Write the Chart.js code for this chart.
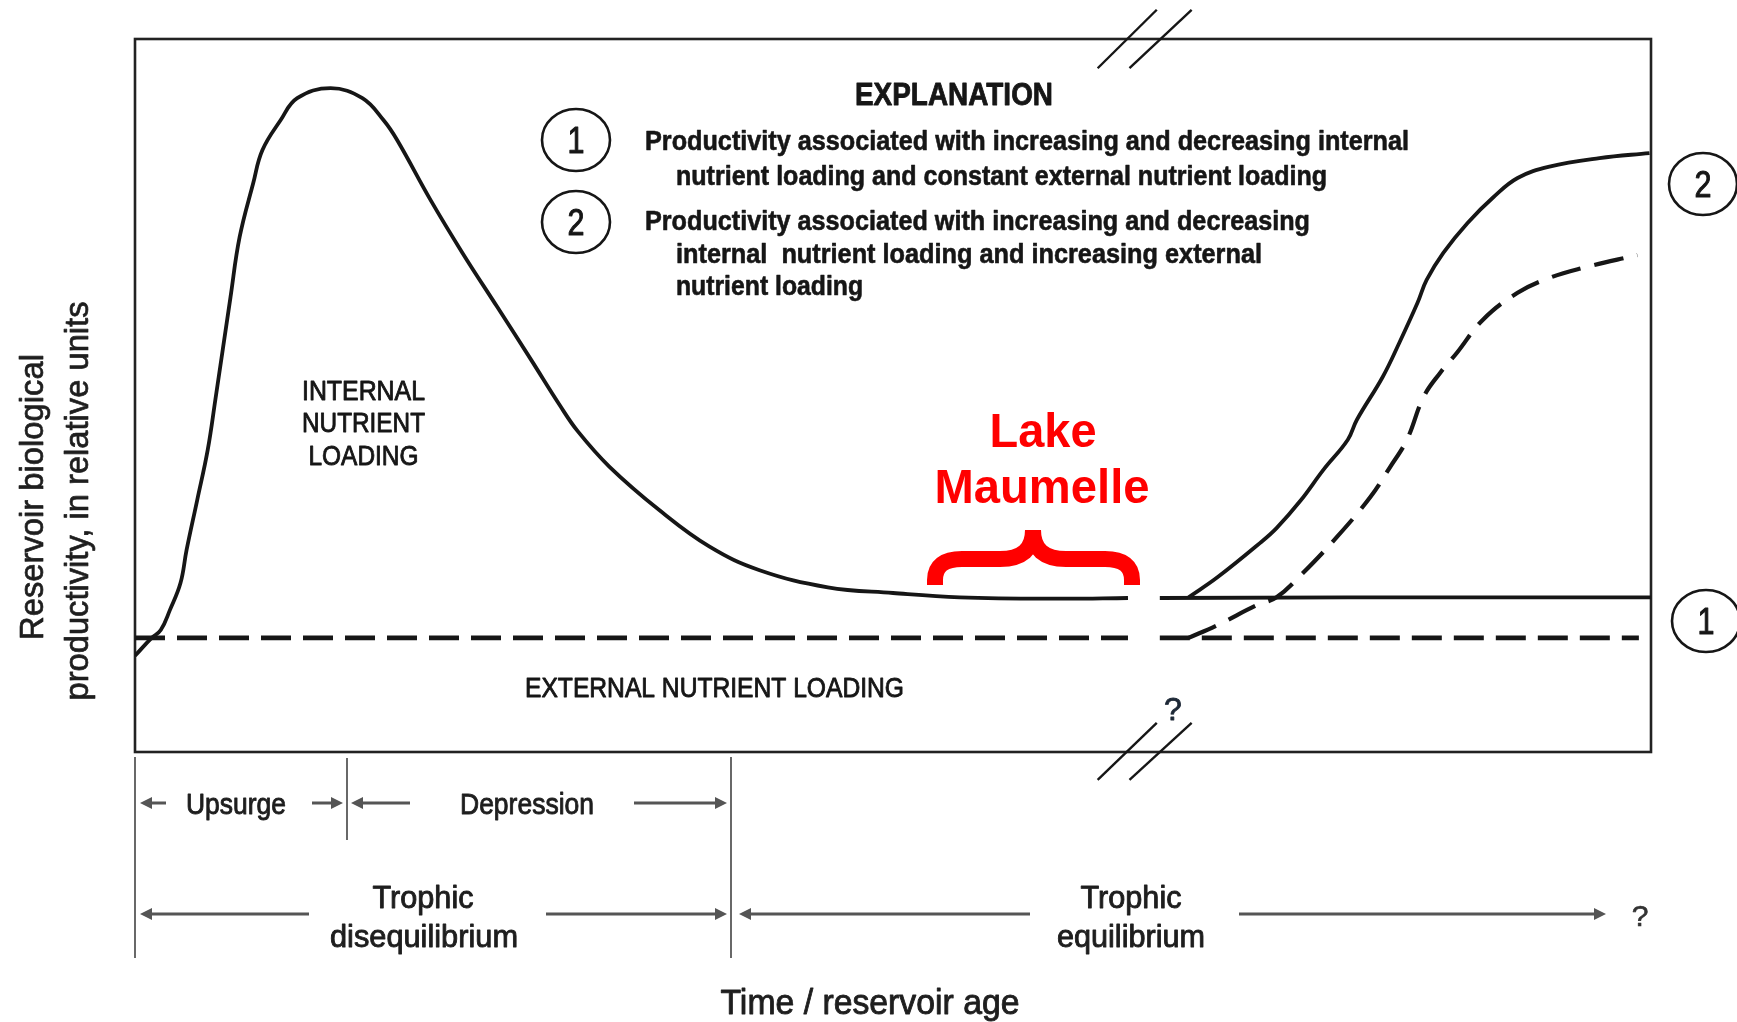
<!DOCTYPE html>
<html>
<head>
<meta charset="utf-8">
<title>Reservoir productivity and age</title>
<script src="https://cdn.jsdelivr.net/npm/chart.js@4.4.0/dist/chart.umd.min.js"></script>
<style>
  html, body { margin: 0; padding: 0; background: #fff; }
  #wrap { width: 1737px; height: 1022px; position: relative; }
</style>
</head>
<body>
<div id="wrap"><canvas id="reservoirChart"></canvas></div>
<script>
// x = time / reservoir age, y = productivity; both in relative units 0-100
const internalX = [0, 1.1, 1.7, 2.3, 3.0, 3.4, 4.1, 4.8, 5.3, 6.3, 6.9, 7.8, 8.4, 9.6, 10.7, 12.9,
                   15.0, 16.4, 17.3, 19.5, 21.6, 23.9, 26.1, 28.0, 29.2, 31.3, 34.6, 37.9, 41.2,
                   45.7, 50.0, 54.4, 61.0, 65.5];
const internalY = [13.5, 16.0, 17.1, 19.9, 23.7, 28.3, 35.3, 42.4, 49.4, 63.8, 72.2, 79.8, 84.4, 88.6,
                   91.7, 93.1, 91.7, 88.6, 85.8, 77.4, 70.0, 62.4, 55.1, 48.7, 45.0, 40.0, 33.9,
                   28.8, 25.5, 23.1, 22.3, 21.7, 21.5, 21.6];

const internalLateX = [67.6, 80, 100];
const internalLateY = [21.6, 21.7, 21.7];

const externalX = [0, 65.5];
const externalY = [16, 16];
const externalLateX = [67.6, 99.2];
const externalLateY = [16, 16];

// curve 2: increasing external loading after the break
const combinedX = [69.5, 71.4, 74.2, 75.3, 76.9, 78.4, 80.0, 80.6, 82.3, 83.4, 84.6, 85.2, 86.3,
                   87.9, 89.6, 91.2, 93.3, 96.6, 99.9];
const combinedY = [21.7, 24.5, 29.3, 31.4, 35.3, 39.6, 43.8, 46.6, 52.6, 57.4, 63.0, 66.2, 70.0,
                   74.2, 77.8, 80.5, 82.1, 83.3, 84.0];
const risingExternalX = [69.5, 71.4, 74.0, 75.3, 76.9, 79.3, 81.5, 82.8, 83.9, 85.0, 86.1, 87.2,
                         88.9, 91.2, 93.3, 95.5, 99.1];
const risingExternalY = [16.0, 17.8, 20.6, 21.7, 24.8, 30.2, 35.8, 40.0, 43.8, 49.8, 53.2, 56.0,
                         60.6, 64.4, 66.5, 67.9, 69.7];

// axis-break marks
const breakA = [63.5, 67.4];
const breakB = [65.6, 69.7];
const breakBottom = [-3.9, 4.1];
const breakTop = [95.9, 104.1];

const explanationLines = [
  'Productivity associated with increasing and decreasing internal',
  'nutrient loading and constant external nutrient loading',
  'Productivity associated with increasing and decreasing',
  'internal  nutrient loading and increasing external',
  'nutrient loading'
];
const internalLabel = ['INTERNAL', 'NUTRIENT', 'LOADING'];
const yTitle = ['Reservoir biological', 'productivity, in relative units'];

const COND = '"Liberation Sans Narrow", "Liberation Sans", Arial, sans-serif';
const SANS = '"Liberation Sans", Arial, sans-serif';
const INK = '#161616';

function pts(xs, ys) {
    return xs.map((x, i) => ({ x: x, y: ys[i] }));
}

function line(xs, ys, width, dash, tension) {
    return {
        data: pts(xs, ys),
        showLine: true,
        borderColor: INK,
        borderWidth: width,
        borderDash: dash || [],
        borderCapStyle: 'butt',
        tension: tension || 0,
        pointRadius: 0,
        pointHoverRadius: 0
    };
}

function slash(xs, ys) {
    let d = line(xs, ys, 2.4, null, 0);
    d.clip = false;
    return d;
}

// text squeezed/stretched to the width it has in the figure; heavy adds a thin outline
function label(ctx, str, x, y, font, width, align, color, heavy) {
    ctx.save();
    ctx.font = font;
    ctx.fillStyle = color || INK;
    ctx.strokeStyle = color || INK;
    ctx.textAlign = align || 'left';
    ctx.textBaseline = 'alphabetic';
    ctx.translate(x, y);
    if (width) {
        let w = ctx.measureText(str).width;
        ctx.scale(width / w, 1);
    }
    ctx.fillText(str, 0, 0);
    if (heavy) {
        ctx.lineWidth = heavy;
        ctx.lineJoin = 'round';
        ctx.strokeText(str, 0, 0);
    }
    ctx.restore();
}

function circled(ctx, digit, cx, cy) {
    ctx.save();
    ctx.strokeStyle = INK;
    ctx.lineWidth = 2.6;
    ctx.beginPath();
    ctx.ellipse(cx, cy, 34, 31, 0, 0, Math.PI * 2);
    ctx.stroke();
    ctx.restore();
    label(ctx, digit, cx, cy + 13, '36px ' + COND, 17, 'center', INK, 1);
}

function arrow(ctx, from, to, y) {
    let dir = to > from ? 1 : -1;
    ctx.save();
    ctx.strokeStyle = '#555';
    ctx.fillStyle = '#555';
    ctx.lineWidth = 3;
    ctx.beginPath();
    ctx.moveTo(from, y);
    ctx.lineTo(to - dir * 8, y);
    ctx.stroke();
    ctx.beginPath();
    ctx.moveTo(to, y);
    ctx.lineTo(to - dir * 12, y - 6);
    ctx.lineTo(to - dir * 12, y + 6);
    ctx.closePath();
    ctx.fill();
    ctx.restore();
}

const framePlugin = {
    id: 'frame',
    beforeDatasetsDraw(chart) {
        const { ctx, chartArea: a } = chart;
        ctx.save();
        ctx.strokeStyle = '#222';
        ctx.lineWidth = 2.6;
        ctx.strokeRect(a.left, a.top, a.right - a.left, a.bottom - a.top);
        ctx.restore();
    }
};

const notesPlugin = {
    id: 'notes',
    afterDraw(chart) {
        const ctx = chart.ctx;

        // explanation block
        label(ctx, 'EXPLANATION', 954, 105, 'bold 31px ' + COND, 198, 'center', INK, 0.8);
        circled(ctx, '1', 576, 140);
        circled(ctx, '2', 576, 222);
        const lx = [645, 676, 645, 676, 676];
        const ly = [150, 185, 230, 263, 295];
        const lw = [764, 651, 665, 586, 187];
        explanationLines.forEach((t, i) => label(ctx, t, lx[i], ly[i], 'bold 27px ' + COND, lw[i], 'left', INK, 0.6));

        // curve keys on the right
        circled(ctx, '2', 1703, 184);
        circled(ctx, '1', 1706, 621);

        // labels inside the plot
        const iw = [123, 123, 110];
        const iy = [400, 432, 465];
        internalLabel.forEach((t, i) => label(ctx, t, 363.5, iy[i], '28px ' + COND, iw[i], 'center', INK, 0.9));
        label(ctx, 'EXTERNAL NUTRIENT LOADING', 525, 697, '28px ' + COND, 379, 'left', INK, 0.9);
        label(ctx, '?', 1173, 720, '32px ' + COND, 0, 'center', '#1d2836', 0.8);

        // Lake Maumelle marker
        label(ctx, 'Lake', 1043, 447, 'bold 48px ' + SANS, 107, 'center', '#ff0000');
        label(ctx, 'Maumelle', 1042, 503, 'bold 48px ' + SANS, 215, 'center', '#ff0000');
        ctx.save();
        ctx.strokeStyle = '#ff0000';
        ctx.lineWidth = 16;
        ctx.lineCap = 'butt';
        ctx.beginPath();
        ctx.moveTo(935, 585);
        ctx.lineTo(935, 580);
        ctx.quadraticCurveTo(935, 559, 962, 559);
        ctx.lineTo(1000, 559);
        ctx.quadraticCurveTo(1033, 559, 1033, 530);
        ctx.moveTo(1033, 530);
        ctx.quadraticCurveTo(1033, 559, 1066, 559);
        ctx.lineTo(1105, 559);
        ctx.quadraticCurveTo(1132, 559, 1132, 580);
        ctx.lineTo(1132, 585);
        ctx.stroke();
        ctx.restore();

        // phase dividers under the plot
        ctx.save();
        ctx.strokeStyle = '#444';
        ctx.lineWidth = 1.6;
        ctx.beginPath();
        ctx.moveTo(135, 757); ctx.lineTo(135, 958);
        ctx.moveTo(347, 758); ctx.lineTo(347, 840);
        ctx.moveTo(731, 757); ctx.lineTo(731, 958);
        ctx.stroke();
        ctx.restore();

        arrow(ctx, 166, 140, 803);
        arrow(ctx, 312, 343, 803);
        arrow(ctx, 410, 351, 803);
        arrow(ctx, 634, 727, 803);
        label(ctx, 'Upsurge', 236, 814, '30px ' + COND, 100, 'center', '#1e1e1e', 0.9);
        label(ctx, 'Depression', 527, 814, '30px ' + COND, 134, 'center', '#1e1e1e', 0.9);

        arrow(ctx, 309, 140, 914);
        arrow(ctx, 546, 727, 914);
        arrow(ctx, 1030, 739, 914);
        arrow(ctx, 1239, 1606, 914);
        label(ctx, 'Trophic', 423, 908, '31px ' + COND, 101, 'center', '#1e1e1e', 0.9);
        label(ctx, 'disequilibrium', 424, 947, '31px ' + COND, 188, 'center', '#1e1e1e', 0.9);
        label(ctx, 'Trophic', 1131, 908, '31px ' + COND, 101, 'center', '#1e1e1e', 0.9);
        label(ctx, 'equilibrium', 1131, 947, '31px ' + COND, 148, 'center', '#1e1e1e', 0.9);
        label(ctx, '?', 1640, 926, '30px ' + COND, 0, 'center', '#333', 0.6);

        label(ctx, 'Time / reservoir age', 870, 1014, '35px ' + COND, 299, 'center', '#1e1e1e', 0.9);

        // rotated y title
        ctx.save();
        ctx.translate(43, 497);
        ctx.rotate(-Math.PI / 2);
        label(ctx, yTitle[0], 0, 0, '33px ' + SANS, 286, 'center', '#1e1e1e', 0.7);
        ctx.restore();
        ctx.save();
        ctx.translate(88, 501);
        ctx.rotate(-Math.PI / 2);
        label(ctx, yTitle[1], 0, 0, '33px ' + SANS, 399, 'center', '#1e1e1e', 0.7);
        ctx.restore();
    }
};

new Chart(document.getElementById('reservoirChart'), {
    type: 'scatter',
    data: {
        datasets: [
            line(internalX, internalY, 3.8, null, 0.4),
            line(internalLateX, internalLateY, 3.8, null, 0),
            line(externalX, externalY, 4.8, [30, 12], 0),
            line(externalLateX, externalLateY, 4.8, [30, 12], 0),
            line(combinedX, combinedY, 3.8, null, 0.4),
            line(risingExternalX, risingExternalY, 4.2, [30, 14], 0.4),
            slash(breakA, breakBottom),
            slash(breakB, breakBottom),
            slash(breakA, breakTop),
            slash(breakB, breakTop)
        ]
    },
    options: {
        responsive: true,
        maintainAspectRatio: false,
        animation: false,
        events: [],
        layout: { padding: { left: 135, top: 39, right: 86, bottom: 270 } },
        scales: {
            x: { type: 'linear', min: 0, max: 100, display: false },
            y: { type: 'linear', min: 0, max: 100, display: false }
        },
        plugins: {
            legend: { display: false },
            tooltip: { enabled: false }
        }
    },
    plugins: [framePlugin, notesPlugin]
});
</script>
</body>
</html>
